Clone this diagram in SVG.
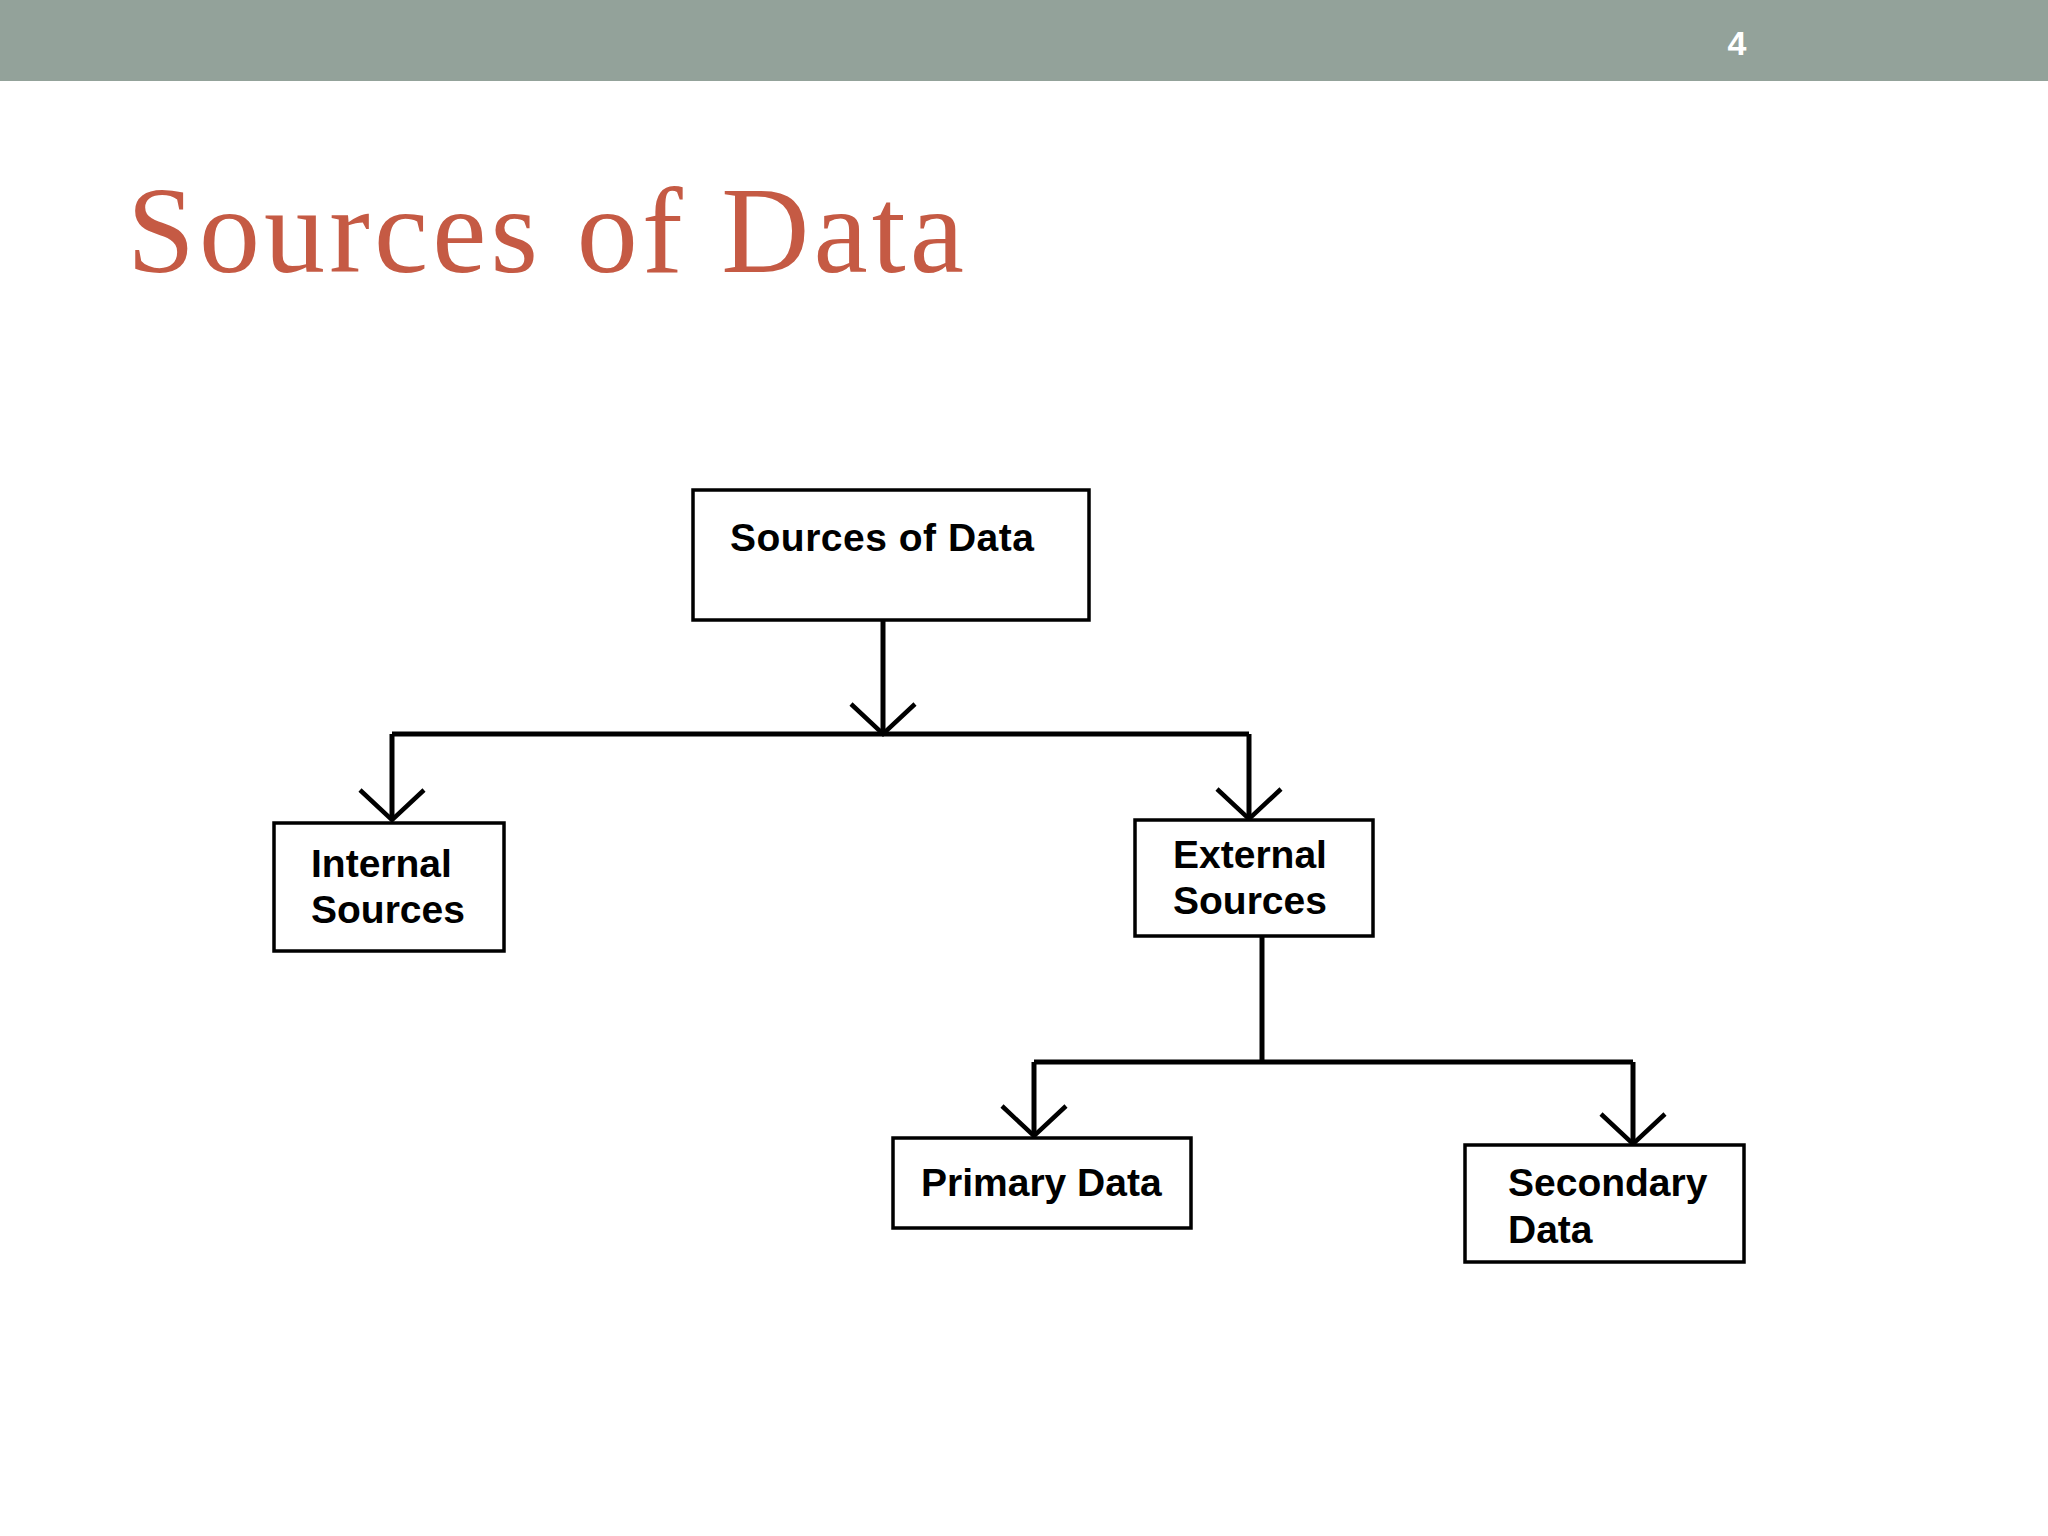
<svg xmlns="http://www.w3.org/2000/svg" width="2048" height="1536" viewBox="0 0 2048 1536">
<style>
.box{fill:#fff;stroke:#000;stroke-width:3.5}
.lbl{font-family:"Liberation Sans",Arial,sans-serif;font-weight:bold;font-size:39px;fill:#000}
.ln{fill:none;stroke:#000;stroke-width:5}
</style>
<defs>
<marker id="v" markerUnits="userSpaceOnUse" markerWidth="80" markerHeight="80" refX="40" refY="40" orient="auto">
<path d="M10,8 L40,40 L10,72" fill="none" stroke="#000" stroke-width="4.5"/>
</marker>
</defs>
<rect width="2048" height="1536" fill="#fff"/>
<rect width="2048" height="81" fill="#93a29a"/>
<text x="1737" y="55" font-family="Liberation Sans,Arial,sans-serif" font-weight="bold" font-size="34" fill="#fff" text-anchor="middle">4</text>
<text x="127" y="272" font-family="Liberation Serif,Times New Roman,serif" font-size="122" fill="#c55a44" textLength="837">Sources of Data</text>
<g id="connectors">
<path class="ln" d="M883,620 V734" marker-end="url(#v)"/>
<path class="ln" d="M392,734 H1249"/>
<path class="ln" d="M392,734 V820" marker-end="url(#v)"/>
<path class="ln" d="M1249,734 V819" marker-end="url(#v)"/>
<path class="ln" d="M1262,936 V1062"/>
<path class="ln" d="M1034,1062 H1633"/>
<path class="ln" d="M1034,1062 V1136" marker-end="url(#v)"/>
<path class="ln" d="M1633,1062 V1144" marker-end="url(#v)"/>
</g>
<g id="root"><rect class="box" x="693" y="490" width="396" height="130"/><text class="lbl" x="730" y="551" textLength="304">Sources of Data</text></g>
<g id="internal"><rect class="box" x="274" y="823" width="230" height="128"/><text class="lbl" x="311" y="877">Internal</text><text class="lbl" x="311" y="923">Sources</text></g>
<g id="external"><rect class="box" x="1135" y="820" width="238" height="116"/><text class="lbl" x="1173" y="868">External</text><text class="lbl" x="1173" y="914">Sources</text></g>
<g id="primary"><rect class="box" x="893" y="1138" width="298" height="90"/><text class="lbl" x="921" y="1196">Primary Data</text></g>
<g id="secondary"><rect class="box" x="1465" y="1145" width="279" height="117"/><text class="lbl" x="1508" y="1196">Secondary</text><text class="lbl" x="1508" y="1243">Data</text></g>
</svg>
